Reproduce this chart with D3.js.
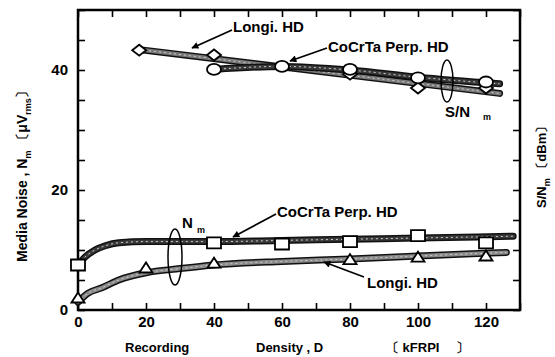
<!DOCTYPE html>
<html>
<head>
<meta charset="utf-8">
<script src="https://cdn.jsdelivr.net/npm/d3@7"></script>
<style>
body { margin: 0; background: #fff; }
text { font-family: "Liberation Sans", Arial, sans-serif; font-weight: bold; }
</style>
</head>
<body>
<script>
// Nm curves (smooth lines) and markers, in uV rms
var nmPerpCurve = [[0,7.5],[2,8.8],[5,10],[8,10.7],[12,11.2],[20,11.4],[40,11.4],[60,11.6],[80,11.8],[100,12],[128,12.3]];
var nmPerpMarks = [[0,7.5],[40,11.2],[60,11],[80,11.4],[100,12.4],[120,11.2]];
var nmLongiCurve = [[0,1.3],[3,2.8],[7,3.7],[12,5],[20,6.2],[30,6.9],[40,7.5],[60,8.1],[80,8.5],[100,9],[126,9.6]];
var nmLongiMarks = [[0,2],[20,7],[40,7.8],[80,8.4],[100,8.8],[120,9]];
// S/N lines (drawn against the same frame)
var snLongiLine = [[18,43.4],[124,36.1]];
var snLongiMarks = [[18,43.3],[40,42.5],[80,39.3],[100,37],[120,37]];
var snPerpLine = [[40,40.1],[60,40.6],[80,40],[100,38.8],[124,37.7]];
var snPerpMarks = [[40,40.1],[60,40.6],[80,40.1],[100,38.7],[120,38]];

var xTicks = d3.range(0, 131, 10);
var xLabels = [0,20,40,60,80,100,120];
var yTicks = d3.range(0, 51, 5);
var yLabels = [0,20,40];

var W = 555, H = 357;
var svg = d3.select("body").append("svg")
	.attr("width", W)
	.attr("height", H);

var x = d3.scaleLinear().domain([0,130]).range([78,520]);
var y = d3.scaleLinear().domain([0,50]).range([310,10]);

var defs = svg.append("defs");
defs.append("marker")
	.attr("id", "arr")
	.attr("viewBox", "0 0 10 10")
	.attr("refX", 9).attr("refY", 5)
	.attr("markerWidth", 9).attr("markerHeight", 7)
	.attr("markerUnits", "userSpaceOnUse")
	.attr("orient", "auto")
	.append("path").attr("d", "M0,0L10,5L0,10z").attr("fill", "#000");

// axes
var fmtX = function(d){ return xLabels.indexOf(d) >= 0 ? d : ""; };
var fmtY = function(d){ return yLabels.indexOf(d) >= 0 ? d : ""; };

svg.append("g")
	.attr("transform", "translate(0,310)")
	.call(d3.axisBottom(x).tickValues(xTicks).tickSize(-7).tickPadding(6).tickFormat(fmtX));
svg.append("g")
	.attr("transform", "translate(0,10)")
	.call(d3.axisTop(x).tickValues(xTicks).tickSize(-7).tickFormat(""));
svg.append("g")
	.attr("transform", "translate(78,0)")
	.call(d3.axisLeft(y).tickValues(yTicks).tickSize(-7).tickPadding(10).tickFormat(fmtY));
svg.append("g")
	.attr("transform", "translate(520,0)")
	.call(d3.axisRight(y).tickValues(yTicks).tickSize(-7).tickFormat(""));

svg.selectAll(".domain").remove();
svg.selectAll(".tick line").attr("stroke", "#000").attr("stroke-width", 1.6);
svg.selectAll(".tick text").attr("font-size", 15).attr("fill", "#000");

svg.append("rect")
	.attr("x", 78).attr("y", 10)
	.attr("width", 442).attr("height", 300)
	.attr("fill", "none")
	.attr("stroke", "#000")
	.attr("stroke-width", 2.5);

// thick textured lines
function drawLine(data, curve, col){
	var gen = d3.line().x(function(d){ return x(d[0]); }).y(function(d){ return y(d[1]); }).curve(curve);
	svg.append("path").attr("d", gen(data)).attr("fill", "none")
		.attr("stroke", "#111").attr("stroke-width", 7).attr("stroke-linecap", "round");
	svg.append("path").attr("d", gen(data)).attr("fill", "none")
		.attr("stroke", col).attr("stroke-width", 4).attr("stroke-linecap", "round");
	svg.append("path").attr("d", gen(data)).attr("fill", "none")
		.attr("stroke", "#ccc").attr("stroke-width", 1).attr("stroke-dasharray", "2,3");
}

drawLine(nmPerpCurve, d3.curveMonotoneX, "#3a3a3a");
drawLine(nmLongiCurve, d3.curveMonotoneX, "#8a8a8a");
drawLine(snLongiLine, d3.curveLinear, "#7a7a7a");
drawLine(snPerpLine, d3.curveMonotoneX, "#3a3a3a");

// markers
function marks(data, shape){
	svg.selectAll(null)
		.data(data)
		.enter().append("path")
		.attr("transform", function(d){ return "translate(" + x(d[0]) + "," + y(d[1]) + ")"; })
		.attr("d", shape)
		.attr("fill", "#fff")
		.attr("stroke", "#000")
		.attr("stroke-width", 1.8);
}
var square = "M-7,-5.5H7V5.5H-7Z";
var circle = "M-7,0A7,5.5 0 1,0 7,0A7,5.5 0 1,0 -7,0Z";
var diamond = "M-7,0L0,-5.5L7,0L0,5.5Z";
var triangle = "M-6.5,4.5L0,-5.5L6.5,4.5Z";

marks(snLongiMarks, diamond);
marks(snPerpMarks, circle);
marks(nmLongiMarks, triangle);
marks(nmPerpMarks, square);

// annotations
function arrow(x1, y1, x2, y2){
	svg.append("line")
		.attr("x1", x1).attr("y1", y1).attr("x2", x2).attr("y2", y2)
		.attr("stroke", "#000").attr("stroke-width", 1.8)
		.attr("marker-end", "url(#arr)");
}
function label(tx, ty, s, size){
	return svg.append("text").attr("x", tx).attr("y", ty)
		.attr("font-size", size || 15).attr("fill", "#000").text(s);
}

label(233, 32, "Longi. HD");
arrow(232, 30, 192, 48);
label(328, 52, "CoCrTa Perp. HD");
arrow(327, 48, 290, 61);
label(277, 217, "CoCrTa Perp. HD");
arrow(276, 214, 233, 237);
label(367, 288, "Longi. HD");
arrow(364, 277, 324, 262);

svg.append("ellipse").attr("cx", 447).attr("cy", 81).attr("rx", 6).attr("ry", 21)
	.attr("fill", "none").attr("stroke", "#000").attr("stroke-width", 1.5);
label(445, 117, "S/N");
label(483, 120, "m", 9);
svg.append("ellipse").attr("cx", 175).attr("cy", 257).attr("rx", 7).attr("ry", 28)
	.attr("fill", "none").attr("stroke", "#000").attr("stroke-width", 1.5);
label(182, 228, "N");
label(197, 233, "m", 9);

// axis titles
label(125, 352, "Recording", 13);
label(256, 352, "Density , D", 13);
label(386, 352, "\u3014 kFRPI \u3000\u3015", 13);

var lt = svg.append("text")
	.attr("transform", "translate(27,262) rotate(-90)")
	.attr("font-size", 14).attr("fill", "#000");
lt.append("tspan").text("Media Noise , N");
lt.append("tspan").attr("font-size", 9).attr("dy", 4).text("m");
lt.append("tspan").attr("dy", -4).text("  \u3014\u03bcV");
lt.append("tspan").attr("font-size", 9).attr("dy", 4).text("rms");
lt.append("tspan").attr("dy", -4).text("\u3015");

var rt = svg.append("text")
	.attr("transform", "translate(546,208) rotate(-90)")
	.attr("font-size", 13).attr("fill", "#000");
rt.append("tspan").text("S/N");
rt.append("tspan").attr("font-size", 9).attr("dy", 4).text("m");
rt.append("tspan").attr("dy", -4).text("   \u3014dBm\u3015");
</script>
</body>
</html>
